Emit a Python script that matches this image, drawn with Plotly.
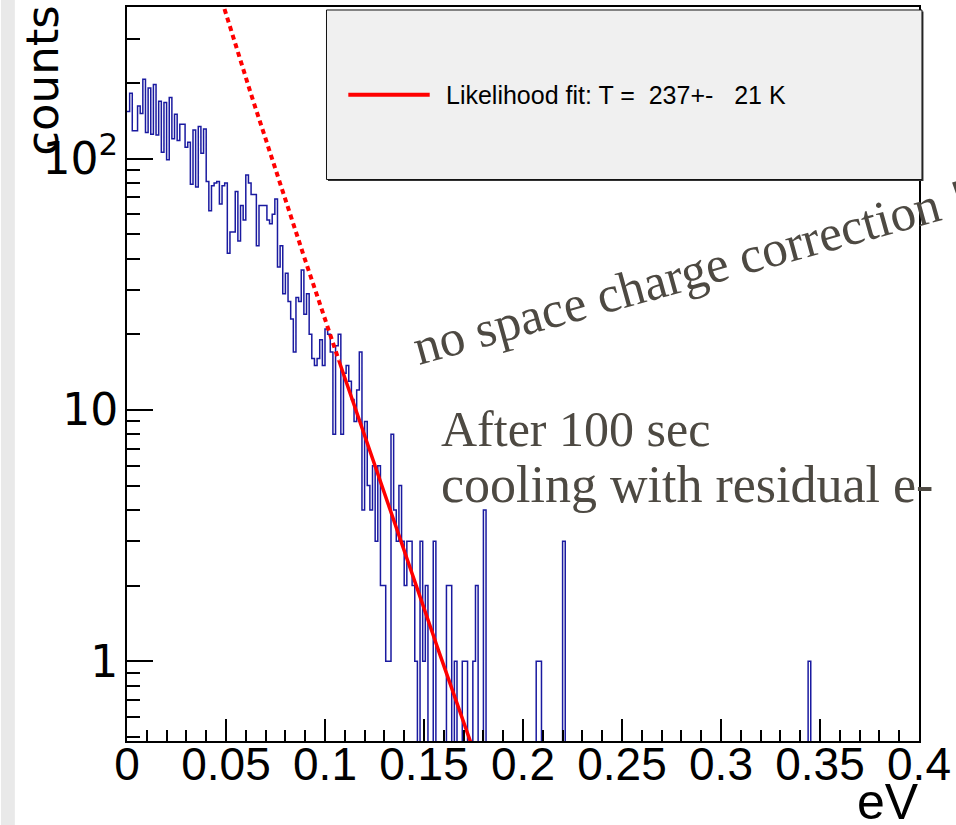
import numpy as np
import plotly.graph_objects as go

# ---------------- data ----------------
N_BINS = 300
E_MIN, E_MAX = 0.0, 0.4

# counts per bin for bins 0..135 (bin width = 0.4/300 eV)
counts_low = [
    154, 182, 129, 129, 162, 151, 207, 127, 191, 125,
    197, 124, 169, 106, 167, 99, 175, 120, 150, 118,
    137, 137, 111, 116, 79, 130, 77, 134, 105, 131,
    81, 62, 78, 80, 81, 66, 78, 80, 42, 51,
    51, 74, 47, 65, 57, 86, 80, 72, 72, 45,
    65, 65, 65, 57, 55, 60, 69, 37, 45, 29,
    35, 27, 23, 17, 28, 27, 36, 24, 29, 20,
    16, 15, 16, 19, 15, 21, 20, 17, 8, 18,
    20, 8, 14, 15, 13, 11, 9, 12, 17, 4,
    9, 5, 4, 6, 3, 6, 2, 2, 1, 1,
    8, 4, 3, 5, 3, 2, 3, 3, 2, 1,
    0, 3, 1, 2, 0, 0, 3, 0, 0, 0,
    0, 2, 2, 0, 1, 0, 0, 1, 1, 0,
    0, 1, 2, 0, 0, 4,
]
# isolated counts further out
tail_bins = [155, 156, 165, 258]
tail_counts = [1, 1, 3, 1]

# fit (1D Maxwell-Boltzmann in energy), parameters from the legend / picture
T_fit_K = 237
T_err_K = 21
fit_norm = 970.0
fit_lo, fit_hi = 0.107, 0.2
k_B = 8.617e-5  # eV/K

x_tickvals = [0, 0.05, 0.1, 0.15, 0.2, 0.25, 0.3, 0.35, 0.4]
x_ticktext = ["0", "0.05", "0.1", "0.15", "0.2", "0.25", "0.3", "0.35", "0.4"]
y_tickvals = [1, 10, 100]
y_ticktext = ["1", "10", "10<sup>2</sup>"]

# ---------------- build histogram ----------------
counts = np.zeros(N_BINS)
counts[: len(counts_low)] = counts_low
counts[tail_bins] = tail_counts
edges = np.linspace(E_MIN, E_MAX, N_BINS + 1)
step_x = edges
step_y = np.append(counts, counts[-1])
step_y_plot = np.where(step_y > 0, step_y, 1e-3)  # empty bins drop below the log axis


def fit_func(E):
    kT = k_B * T_fit_K
    return fit_norm * E ** -0.5 * np.exp(-E / kT)


E_dot = np.linspace(0.03, fit_lo, 200)
E_sol = np.linspace(fit_lo, fit_hi, 300)

FONT = "Liberation Sans, Arial, Helvetica, sans-serif"
WIDE = "DejaVu Sans, Verdana, sans-serif"
SERIF = "Liberation Serif, Times New Roman, serif"

fig = go.Figure()
fig.add_trace(go.Scatter(
    x=step_x, y=step_y_plot, mode="lines", line=dict(shape="hv", color="#1a1aa0", width=1.5),
    showlegend=False, hoverinfo="skip"))
fig.add_trace(go.Scatter(
    x=E_dot, y=fit_func(E_dot), mode="lines",
    line=dict(color="#ff0000", width=4, dash="5px,4px"), showlegend=False))
fig.add_trace(go.Scatter(
    x=E_sol, y=fit_func(E_sol), mode="lines",
    line=dict(color="#ff0000", width=3.5), showlegend=False))

W, H = 956, 825
L, R, T, B = 127, 31, 5, 84
pw, ph = W - L - R, H - T - B


def px2x(px):
    return (px - L) / pw


def px2y(py):
    return (H - B - py) / ph


minor_y = [v * 10 ** d for d in (-1, 0, 1, 2) for v in range(2, 10)]
minor_y = [v for v in minor_y if 0.45 < v < 420 and v not in (1, 10, 100)]

fig.update_layout(
    width=W, height=H,
    margin=dict(l=L, r=R, t=T, b=B),
    paper_bgcolor="white", plot_bgcolor="white",
    xaxis=dict(
        range=[E_MIN, E_MAX], tickvals=x_tickvals, ticktext=x_ticktext,
        ticks="inside", ticklen=22, tickwidth=1.5, tickcolor="black",
        showline=True, linecolor="black", linewidth=2, mirror=True,
        showgrid=False, zeroline=False, ticklabelstandoff=-18, ticklabeloverflow="allow",
        tickfont=dict(family=FONT, size=46, color="black"),
        minor=dict(ticks="inside", ticklen=11, tickwidth=1.5, tickcolor="black", dtick=0.01, showgrid=False),
    ),
    yaxis=dict(
        type="log", range=[-0.3175, 2.603], tickvals=y_tickvals, ticktext=y_ticktext,
        ticks="inside", ticklen=26, tickwidth=1.5, tickcolor="black",
        showline=True, linecolor="black", linewidth=2, mirror=True,
        showgrid=False, zeroline=False, ticklabelstandoff=-2,
        tickfont=dict(family=WIDE, size=44, color="black"),
        minor=dict(ticks="inside", ticklen=13, tickwidth=1.5, tickcolor="black",
                   tickmode="array", tickvals=minor_y, showgrid=False),
    ),
)

shapes = [
    # slide background strip on the left
    dict(type="rect", xref="paper", yref="paper", x0=px2x(0), x1=px2x(14), y0=px2y(830), y1=px2y(-5),
         fillcolor="#e9e9e9", line=dict(width=0), layer="below"),
    # legend shadow + box
    dict(type="rect", xref="paper", yref="paper", x0=px2x(329.5), x1=px2x(929.5), y0=px2y(179.5), y1=px2y(9.5),
         fillcolor="#333333", line=dict(width=0)),
    dict(type="rect", xref="paper", yref="paper", x0=px2x(328), x1=px2x(928), y0=px2y(178), y1=px2y(8),
         fillcolor="#f0f0f0", line=dict(color="#111111", width=1)),
    dict(type="line", xref="paper", yref="paper", x0=px2x(350), x1=px2x(432), y0=px2y(93), y1=px2y(93),
         line=dict(color="#ff0000", width=4)),
]
fig.update_layout(shapes=shapes)

nb = "\u00a0"
legend_text = f"Likelihood fit: T ={nb}{nb}{T_fit_K}+-{nb}{nb}{nb}{T_err_K} K"

annotations = [
    dict(text="counts", x=px2x(41), y=px2y(2), xref="paper", yref="paper", xanchor="center",
         yanchor="top", textangle=-90, showarrow=False, font=dict(family=WIDE, size=45, color="black")),
    dict(text="eV", x=px2x(927), y=px2y(802), xref="paper", yref="paper", xanchor="right",
         yanchor="middle", showarrow=False, font=dict(family=FONT, size=50, color="black")),
    dict(text=legend_text, x=px2x(446), y=px2y(93), xref="paper", yref="paper", xanchor="left",
         yanchor="middle", showarrow=False, font=dict(family=FONT, size=25, color="black")),
    dict(text="After 100 sec", x=px2x(441), y=px2y(428), xref="paper", yref="paper", xanchor="left",
         yanchor="middle", showarrow=False, font=dict(family=SERIF, size=50, color="#4d4942")),
    dict(text="cooling with residual e-", x=px2x(441), y=px2y(484), xref="paper", yref="paper",
         xanchor="left", yanchor="middle", showarrow=False, font=dict(family=SERIF, size=52, color="#4d4942")),
    dict(text="no space charge correction !", x=px2x(695), y=px2y(271), xref="paper", yref="paper",
         xanchor="center", yanchor="middle", textangle=-15.5, showarrow=False,
         font=dict(family=SERIF, size=51, color="#4d4942")),
]
fig.update_layout(annotations=annotations)

fig.write_html("out.html")
